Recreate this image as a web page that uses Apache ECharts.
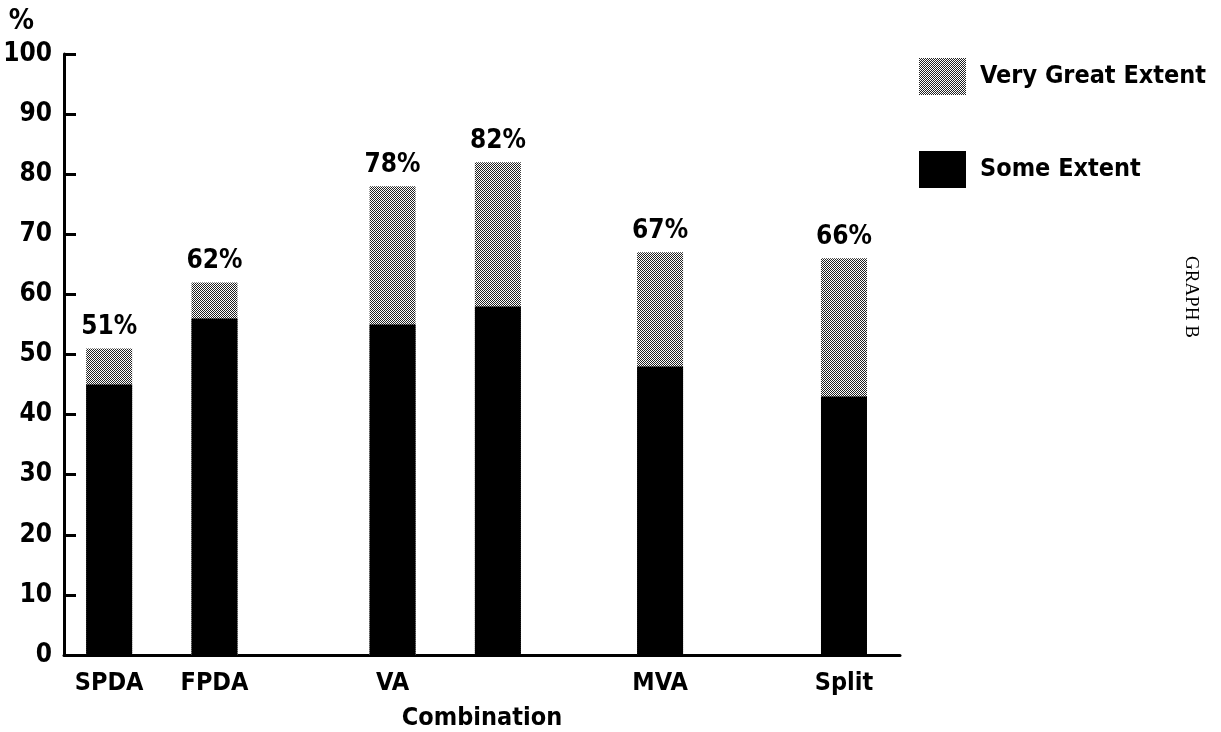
<!DOCTYPE html>
<html lang="en">
<head>
    <meta charset="UTF-8">
    <script src="https://cdn.jsdelivr.net/npm/echarts@6.0.0/dist/echarts.min.js"></script>
    <title>Graph B</title>
    <style>
      body { margin: 0; background: #fff; }
    </style>
</head>
<body>
    <div id="main" style="width: 1221px;height:732px;"></div>
    <script type="text/javascript">
      // data
      var combos = ['SPDA', 'FPDA', 'VA', '', 'MVA', 'Split'];
      var slotPos = [5.4, 18.0, 39.3, 51.9, 71.3, 93.3];   // where each bar sits along the combination axis
      var someExtent = [45, 56, 55, 58, 48, 43];
      var totalExtent = [51, 62, 78, 82, 67, 66];         // some + very great
      var yTicks = [0, 10, 20, 30, 40, 50, 60, 70, 80, 90, 100];

      var FONT = "'Liberation Sans Narrow', 'DejaVu Sans Condensed', 'DejaVu Sans', sans-serif";

      // checker dots like the printed screen
      var cv = document.createElement('canvas');
      cv.width = 2; cv.height = 2;
      var cx = cv.getContext('2d');
      cx.fillStyle = '#fff'; cx.fillRect(0, 0, 2, 2);
      cx.fillStyle = '#222'; cx.fillRect(0, 0, 1, 1); cx.fillRect(1, 1, 1, 1);
      var hatch = { image: cv, repeat: 'repeat' };

      var labelPos = [];
      combos.forEach(function (c, i) { if (c) labelPos.push(slotPos[i]); });

      var myChart = echarts.init(document.getElementById('main'));

      var option = {
        animation: false,
        textStyle: { fontFamily: FONT, color: '#000' },
        grid: { left: 64, right: 321, top: 54, bottom: 77, outerBoundsMode: 'none' },
        legend: {
          orient: 'vertical',
          left: 919,
          top: 58,
          padding: 0,
          itemWidth: 47,
          itemHeight: 37,
          itemGap: 56,
          icon: 'rect',
          selectedMode: false,
          data: ['Very Great Extent', 'Some Extent'],
          textStyle: { fontFamily: FONT, fontWeight: 'bold', fontSize: 25, color: '#000', padding: [3, 0, 0, 9] }
        },
        xAxis: {
          type: 'value',
          min: 0,
          max: 100,
          name: 'Combination',
          nameLocation: 'middle',
          nameGap: 51,
          nameTextStyle: { fontFamily: FONT, fontWeight: 'bold', fontSize: 25, color: '#000' },
          axisLine: { show: true, lineStyle: { color: '#000', width: 3 } },
          axisTick: { show: false },
          splitLine: { show: false },
          axisLabel: {
            customValues: labelPos,
            margin: 16,
            fontFamily: FONT,
            fontWeight: 'bold',
            fontSize: 25,
            color: '#000',
            formatter: function (v) {
              var i = slotPos.indexOf(v);
              return i >= 0 ? combos[i] : '';
            }
          }
        },
        yAxis: {
          type: 'value',
          min: 0,
          max: 100,
          interval: 10,
          name: '%',
          nameLocation: 'end',
          nameGap: 18,
          nameTextStyle: { fontFamily: FONT, fontWeight: 'bold', fontSize: 28, color: '#000', align: 'right', padding: [0, 30, 0, 0] },
          axisLine: { show: true, lineStyle: { color: '#000', width: 3 } },
          axisTick: { show: true, inside: true, length: 12, lineStyle: { color: '#000', width: 3 } },
          splitLine: { show: false },
          axisLabel: {
            margin: 12,
            fontFamily: FONT,
            fontWeight: 'bold',
            fontSize: 26,
            color: '#000',
            customValues: yTicks
          }
        },
        graphic: [{
          type: 'text',
          x: 1200,
          y: 256,
          rotation: -Math.PI / 2,
          style: {
            text: 'GRAPH B',
            font: '19px "Liberation Serif", "DejaVu Serif", serif',
            fill: '#000'
          }
        }],
        series: [
          {
            name: 'Very Great Extent',
            type: 'bar',
            barWidth: 46,
            barGap: '-100%',
            itemStyle: { color: hatch },
            data: slotPos.map(function (x, i) { return [x, totalExtent[i]]; }),
            label: {
              show: true,
              position: 'top',
              distance: 8,
              fontFamily: FONT,
              fontWeight: 'bold',
              fontSize: 26,
              color: '#000',
              formatter: function (p) { return totalExtent[p.dataIndex] + '%'; }
            }
          },
          {
            name: 'Some Extent',
            type: 'bar',
            barWidth: 46,
            barGap: '-100%',
            itemStyle: { color: '#000' },
            data: slotPos.map(function (x, i) { return [x, someExtent[i]]; })
          }
        ]
      };

      myChart.setOption(option);
    </script>
</body>
</html>
